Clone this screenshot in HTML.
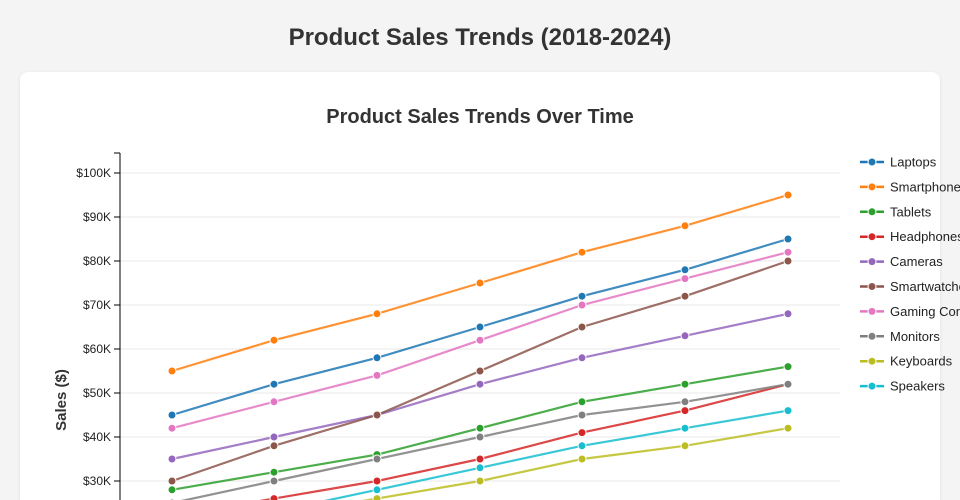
<!DOCTYPE html>
<html><head><meta charset="utf-8">
<style>
html,body{margin:0;padding:0;width:960px;height:500px;overflow:hidden;background:#f4f4f4;font-family:"Liberation Sans",sans-serif;position:relative;}
h1{position:absolute;top:0;left:0;width:960px;text-align:center;margin:0;line-height:76px;font-size:24px;font-weight:bold;color:#333;}
.card{position:absolute;left:20px;top:72px;width:920px;height:428px;background:#fff;border-radius:8px 8px 0 0;box-shadow:0 1px 4px rgba(0,0,0,0.08);}
svg{position:absolute;left:0;top:0;}
</style></head><body>
<h1>Product Sales Trends (2018-2024)</h1>
<div class="card"></div>
<svg id="s" width="960" height="500" xmlns="http://www.w3.org/2000/svg"></svg>
<script>
const s=document.getElementById('s');
const X=[172,274,377,480,582,685,788];
const Y=v=>173+(100-v)*4.4;
const data=[
["Laptops","#1f77b4",[45,52,58,65,72,78,85]],
["Smartphones","#ff7f0e",[55,62,68,75,82,88,95]],
["Tablets","#2ca02c",[28,32,36,42,48,52,56]],
["Headphones","#d62728",[22,26,30,35,41,46,52]],
["Cameras","#9467bd",[35,40,45,52,58,63,68]],
["Smartwatches","#8c564b",[30,38,45,55,65,72,80]],
["Gaming Consoles","#e377c2",[42,48,54,62,70,76,82]],
["Monitors","#7f7f7f",[25,30,35,40,45,48,52]],
["Keyboards","#bcbd22",[18,22,26,30,35,38,42]],
["Speakers","#17becf",[20,23,28,33,38,42,46]]];
let h='<text x="480" y="123" text-anchor="middle" font-size="20" font-weight="bold" fill="#333">Product Sales Trends Over Time</text>';
for(let v=30;v<=100;v+=10){const y=Y(v);h+=`<line x1="120" x2="840" y1="${y}" y2="${y}" stroke="#e8e8e8"/><line x1="114" x2="120" y1="${y}" y2="${y}" stroke="#000"/><text x="111" y="${y+4}" text-anchor="end" font-size="12" fill="#222">$${v}K</text>`;}
h+='<line x1="120" x2="120" y1="153" y2="500" stroke="#000"/><line x1="114" x2="120" y1="153" y2="153" stroke="#000"/>';
h+='<text transform="translate(66,400) rotate(-90)" text-anchor="middle" font-size="15" font-weight="bold" fill="#333">Sales ($)</text>';
data.forEach(([n,c,d],i)=>{
 h+=`<polyline fill="none" stroke="${c}" stroke-width="2.2" stroke-opacity="0.85" points="${d.map((v,j)=>X[j]+','+Y(v)).join(' ')}"/>`;
 d.forEach((v,j)=>h+=`<circle cx="${X[j]}" cy="${Y(v)}" r="4" fill="${c}" stroke="#fff" stroke-width="1"/>`);
 const ly=162+i*24.9;
 h+=`<line x1="860" x2="884" y1="${ly}" y2="${ly}" stroke="${c}" stroke-width="2.5"/><circle cx="872" cy="${ly}" r="4" fill="${c}" stroke="#fff"/><text x="890" y="${ly+4.5}" font-size="13" fill="#222">${n}</text>`;
});
s.innerHTML=h;
</script>
</body></html>
